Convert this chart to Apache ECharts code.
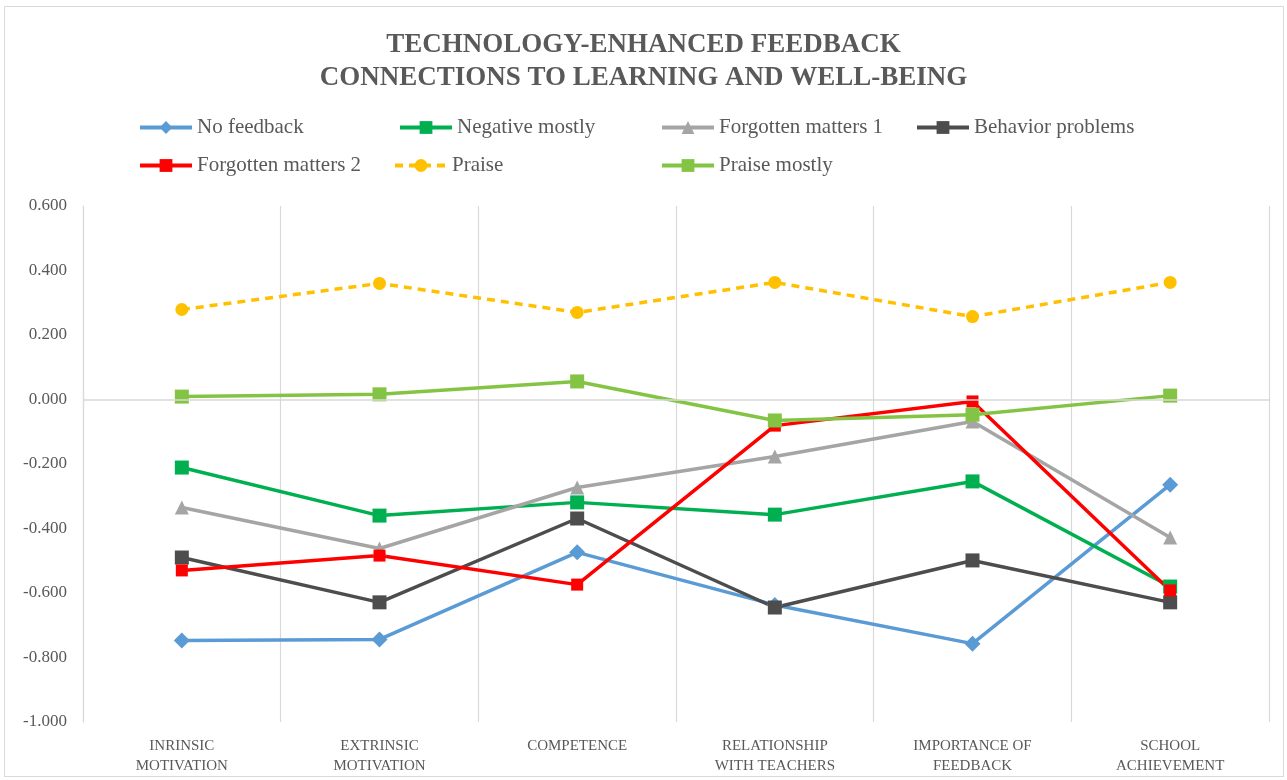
<!DOCTYPE html>
<html>
<head>
<meta charset="utf-8">
<script src="https://cdn.jsdelivr.net/npm/echarts@6/dist/echarts.min.js"></script>
<style>
html,body{margin:0;padding:0;background:#fff;}
#chart{width:1287px;height:780px;}
</style>
</head>
<body>
<div id="chart"></div>
<script>
const categories = ['INRINSIC\nMOTIVATION','EXTRINSIC\nMOTIVATION','COMPETENCE','RELATIONSHIP\nWITH TEACHERS','IMPORTANCE OF\nFEEDBACK','SCHOOL\nACHIEVEMENT'];
const noFeedback = [-0.747, -0.744, -0.474, -0.637, -0.757, -0.264];
const negativeMostly = [-0.211, -0.360, -0.319, -0.357, -0.254, -0.580];
const forgotten1 = [-0.335, -0.462, -0.273, -0.177, -0.068, -0.428];
const behaviorProblems = [-0.490, -0.629, -0.369, -0.645, -0.499, -0.629];
const forgotten2 = [-0.530, -0.484, -0.574, -0.081, -0.006, -0.592];
const praise = [0.279, 0.360, 0.270, 0.363, 0.257, 0.363];
const praiseMostly = [0.009, 0.016, 0.056, -0.065, -0.047, 0.012];
const yTicks = {min: -1.0, max: 0.6, interval: 0.2};

const serif = '"Liberation Serif","DejaVu Serif",serif';
const textColor = '#595959';

function mk(name, data, color, symbol, size, dashed) {
  return {
    name: name, type: 'line', data: data,
    symbol: symbol, symbolSize: size,
    showSymbol: true,
    lineStyle: {color: color, width: 3.5, type: dashed ? [8, 6] : 'solid'},
    itemStyle: {color: color},
    emphasis: {disabled: true},
    animation: false
  };
}

const series = [
  mk('No feedback', noFeedback, '#5B9BD5', 'diamond', 16),
  mk('Negative mostly', negativeMostly, '#00B050', 'rect', 14),
  mk('Forgotten matters 1', forgotten1, '#A5A5A5', 'triangle', 14),
  mk('Behavior problems', behaviorProblems, '#4D4D4D', 'rect', 14),
  mk('Forgotten matters 2', forgotten2, '#FF0000', 'rect', 12),
  mk('Praise', praise, '#FFC000', 'circle', 13, true),
  mk('Praise mostly', praiseMostly, '#84C444', 'rect', 14)
];
series[0].markLine = {
  silent: true, symbol: ['none','none'], label: {show: false},
  lineStyle: {color: '#D9D9D9', width: 1.5, type: 'solid'},
  data: [{yAxis: 0}], animation: false
};

const legendPos = [
  ['No feedback', 133, 112], ['Negative mostly', 393, 112], ['Forgotten matters 1', 655, 112], ['Behavior problems', 910, 112],
  ['Forgotten matters 2', 133, 150], ['Praise', 388, 150], ['Praise mostly', 655, 150]
];
const legends = legendPos.map(p => ({
  data: [p[0]], left: p[1], top: p[2], itemWidth: 52, itemHeight: 16, itemGap: 6,
  lineStyle: {width: 4},
  textStyle: {fontFamily: serif, fontSize: 21, color: textColor},
  selectedMode: false
}));

const chart = echarts.init(document.getElementById('chart'), null, {renderer: 'canvas'});
chart.setOption({
  backgroundColor: '#fff',
  animation: false,
  title: {
    text: 'TECHNOLOGY-ENHANCED FEEDBACK\nCONNECTIONS TO LEARNING AND WELL-BEING',
    left: 'center', top: 24,
    textStyle: {fontFamily: serif, fontSize: 27, fontWeight: 'bold', color: textColor, lineHeight: 33}
  },
  legend: legends,
  graphic: [{type: 'rect', shape: {x: 4.5, y: 6.5, width: 1279, height: 770}, style: {fill: 'none', stroke: '#D9D9D9', lineWidth: 1}, silent: true}],
  grid: {left: 83, right: 18, top: 206, bottom: 58, containLabel: false},
  xAxis: {
    type: 'category', data: categories, boundaryGap: true,
    axisLine: {show: false, onZero: false},
    axisTick: {show: false},
    axisLabel: {fontFamily: serif, fontSize: 15, color: textColor, lineHeight: 20, margin: 14, interval: 0},
    splitLine: {show: true, interval: 0, lineStyle: {color: '#D9D9D9', width: 1.2}}
  },
  yAxis: {
    type: 'value', min: yTicks.min, max: yTicks.max, interval: yTicks.interval,
    axisLine: {show: true, lineStyle: {color: '#D9D9D9', width: 1.2}},
    axisTick: {show: false},
    splitLine: {show: false},
    axisLabel: {fontFamily: serif, fontSize: 17, color: textColor, margin: 16, formatter: v => v.toFixed(3)}
  },
  series: series
});
</script>
</body>
</html>
